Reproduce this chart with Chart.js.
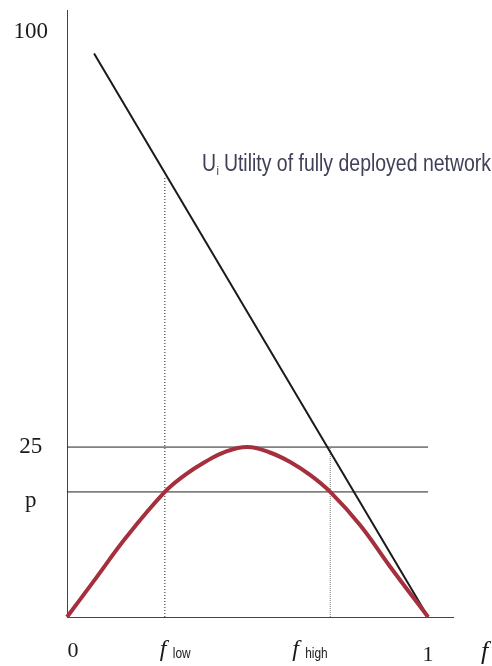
<!DOCTYPE html>
<html>
<head>
<meta charset="utf-8">
<script src="https://cdn.jsdelivr.net/npm/chart.js@4.4.1/dist/chart.umd.min.js"></script>
<style>
    html, body { margin: 0; padding: 0; background: #fff; }
    #wrap { width: 492px; height: 666px; }
</style>
</head>
<body>
<div id="wrap"><canvas id="chart"></canvas></div>
<script>
// red curve (f, value)
var curveF = [0, 0.073, 0.165, 0.271, 0.327, 0.382, 0.438, 0.5, 0.562, 0.618, 0.673, 0.729, 0.812, 0.895, 1];
var curveV = [0, 5.2, 11.8, 18.4, 20.9, 22.8, 24.3, 25, 24.2, 22.8, 20.9, 18.4, 13.5, 7.4, 0];

// utility of fully deployed network
var lineF = [0.075, 1];
var lineV = [82.9, 0];

var pLevel = 18.4;
var topLevel = 25;
var fLow = 0.271;
var fHigh = 0.729;
var fLowTop = 64.6;

var yTickValues = [17.1, 25, 86];
var yTickLabels = ['p', '25', '100'];

var xTickValues = [0, fLow, fHigh, 1];
var xTickLabels = ['0', 'f low', 'f high', '1'];

var pts = function (xs, ys) {
    var out = [];
    for (var i = 0; i < xs.length; i++) out.push({x: xs[i], y: ys[i]});
    return out;
};

var labelPlugin = {
    id: 'labels',
    afterDraw: function (chart) {
        var ctx = chart.ctx;
        var sx = chart.scales.x;
        var yb = chart.chartArea.bottom;
        ctx.save();
        ctx.fillStyle = '#1a1a1a';
        ctx.textBaseline = 'alphabetic';

        // x tick labels
        var offs = [6, -5, -38, 0];
        var lifts = [40, 39, 39, 44];
        for (var i = 0; i < xTickValues.length; i++) {
            var px = sx.getPixelForValue(xTickValues[i]) + offs[i];
            var parts = xTickLabels[i].split(' ');
            if (parts.length == 1) {
                ctx.font = '22px "Liberation Serif"';
                ctx.textAlign = 'center';
                ctx.fillText(parts[0], px, yb + lifts[i]);
            } else {
                ctx.textAlign = 'left';
                ctx.font = 'italic 24px "Liberation Serif"';
                ctx.fillText(parts[0], px, yb + lifts[i]);
                ctx.font = '14px "Liberation Sans"';
                ctx.save();
                ctx.translate(px + 13, yb + lifts[i] + 2);
                ctx.scale(0.85, 1);
                ctx.fillText(parts[1], 0, 0);
                ctx.restore();
            }
        }

        // axis name
        ctx.textAlign = 'left';
        ctx.font = 'italic 26px "Liberation Serif"';
        ctx.fillText('f', sx.right + 28, yb + 42);

        // note for the straight line
        ctx.fillStyle = '#404058';
        var big = '23px "Liberation Sans"';
        var small = '13px "Liberation Sans"';
        var rest = ' Utility of fully deployed network';
        ctx.font = big;
        var wU = ctx.measureText('U').width;
        var wR = ctx.measureText(rest).width;
        ctx.font = small;
        var wI = ctx.measureText('i').width;
        var k = 289 / (wU + wI + wR);
        ctx.save();
        ctx.translate(202, 171);
        ctx.scale(k, 1);
        ctx.font = big;
        ctx.fillText('U', 0, 0);
        ctx.font = small;
        ctx.fillText('i', wU + 0.5, 4);
        ctx.font = big;
        ctx.fillText(rest, wU + wI, 0);
        ctx.restore();

        ctx.restore();
    }
};

var ctx = document.getElementById('chart');

new Chart(ctx, {
    type: 'line',
    data: {
        datasets: [
            {
                data: pts(curveF, curveV),
                borderColor: '#a5303d',
                borderWidth: 4,
                tension: 0.4,
                pointRadius: 0,
                clip: false
            },
            {
                data: pts(lineF, lineV),
                borderColor: '#1a1a1a',
                borderWidth: 2,
                pointRadius: 0,
                clip: false
            },
            {
                data: pts([0, 1], [topLevel, topLevel]),
                borderColor: '#222',
                borderWidth: 1,
                pointRadius: 0
            },
            {
                data: pts([0, 1], [pLevel, pLevel]),
                borderColor: '#222',
                borderWidth: 1,
                pointRadius: 0
            },
            {
                data: pts([fLow, fLow], [0, fLowTop]),
                borderColor: '#222',
                borderWidth: 1,
                borderDash: [1, 2],
                pointRadius: 0
            },
            {
                data: pts([fHigh, fHigh], [0, topLevel]),
                borderColor: '#777',
                borderWidth: 1,
                borderDash: [1, 1],
                pointRadius: 0
            }
        ]
    },
    options: {
        animation: false,
        responsive: true,
        maintainAspectRatio: false,
        devicePixelRatio: 1,
        layout: {padding: {top: 10, right: 39, left: 0, bottom: 0}},
        plugins: {legend: {display: false}, tooltip: {enabled: false}},
        scales: {
            x: {
                type: 'linear',
                min: 0,
                max: 1.069,
                grid: {display: false, drawTicks: false},
                border: {display: true, color: '#444', width: 1},
                ticks: {display: false},
                afterFit: function (scale) {
                    scale.height = 49;
                    scale.paddingLeft = 0;
                    scale.paddingRight = 0;
                }
            },
            y: {
                min: 0,
                max: 89.3,
                grid: {display: false, drawTicks: false},
                border: {display: true, color: '#444', width: 1},
                afterBuildTicks: function (scale) {
                    scale.ticks = yTickValues.map(function (v) { return {value: v}; });
                },
                ticks: {
                    autoSkip: false,
                    crossAlign: 'center',
                    padding: 19,
                    color: '#1a1a1a',
                    font: {family: '"Liberation Serif"', size: 23},
                    callback: function (value, index) { return yTickLabels[index]; }
                },
                afterFit: function (scale) {
                    scale.width = 67;
                    scale.paddingTop = 0;
                    scale.paddingBottom = 0;
                }
            }
        }
    },
    plugins: [labelPlugin]
});
</script>
</body>
</html>
